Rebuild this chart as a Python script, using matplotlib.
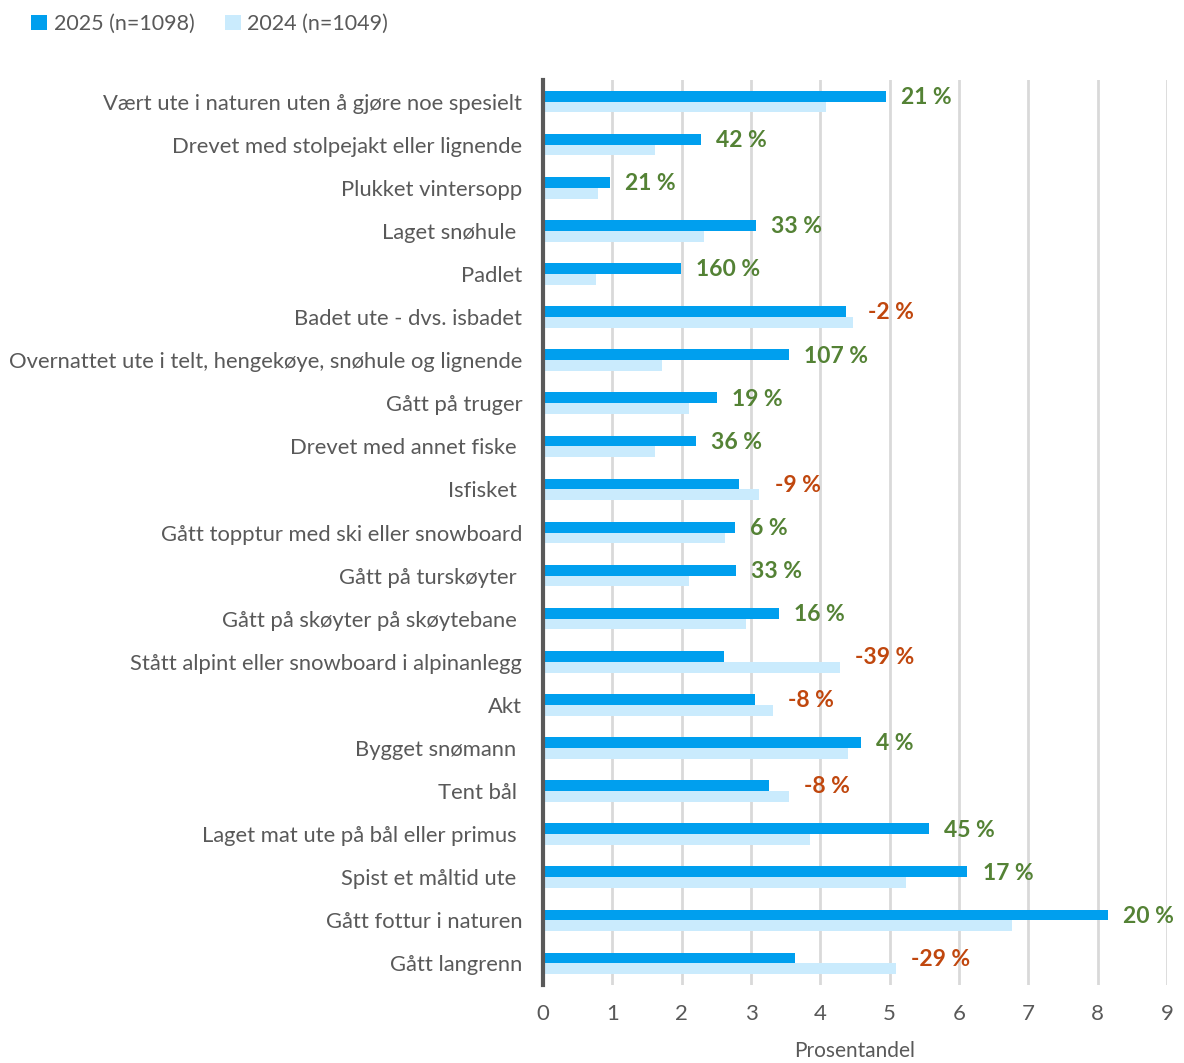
import numpy as np
import matplotlib.pyplot as plt

plt.rcParams['font.family'] = ['Lato', 'DejaVu Sans']

# Data
activities = ["Vært ute i naturen uten å gjøre noe spesielt",
              "Drevet med stolpejakt eller lignende",
              "Plukket vintersopp",
              "Laget snøhule ",
              "Padlet",
              "Badet ute - dvs. isbadet",
              "Overnattet ute i telt, hengekøye, snøhule og lignende",
              "Gått på truger",
              "Drevet med annet fiske ",
              "Isfisket ",
              "Gått topptur med ski eller snowboard",
              "Gått på turskøyter ",
              "Gått på skøyter på skøytebane ",
              "Stått alpint eller snowboard i alpinanlegg",
              "Akt",
              "Bygget snømann ",
              "Tent bål ",
              "Laget mat ute på bål eller primus ",
              "Spist et måltid ute ",
              "Gått fottur i naturen",
              "Gått langrenn"]
share_2025 = [4.95, 2.28, 0.97, 3.07, 1.99, 4.37, 3.55, 2.51, 2.21, 2.83, 2.77,
              2.78, 3.40, 2.61, 3.06, 4.59, 3.26, 5.57, 6.12, 8.15, 3.63]
share_2024 = [4.08, 1.61, 0.80, 2.32, 0.76, 4.47, 1.72, 2.11, 1.62, 3.12, 2.62,
              2.10, 2.93, 4.28, 3.32, 4.40, 3.55, 3.85, 5.24, 6.76, 5.09]
change = [21, 42, 21, 33, 160, -2, 107, 19, 36, -9, 6, 33, 16, -39, -8, 4, -8, 45, 17, 20, -29]

c25 = "#009FEE"
c24 = "#CAEBFD"
grey = "#595959"

fig = plt.figure(figsize=(11.84, 10.63), dpi=100)
ax = fig.add_axes([0.4586, 0.0734, 0.527, 0.8513])

y = np.arange(len(activities))
h = 0.25
ax.barh(y - h/2, share_2025, height=h, color=c25, label="2025 (n=1098)", zorder=3)
ax.barh(y + h/2, share_2024, height=h, color=c24, label="2024 (n=1049)", zorder=3)

for i in range(len(activities)):
    col = "#548235" if change[i] >= 0 else "#C0470E"
    xpos = max(share_2025[i], share_2024[i]) + 0.22
    ax.text(xpos, y[i] - h/2 + 0.03, f"{change[i]} %", color=col, fontsize=16.5,
            fontweight='bold', va='center', ha='left')

ax.set_ylim(len(activities) - 0.5, -0.5)
ax.set_xlim(0, 9)
ax.set_xticks(range(10))
ax.set_yticks(y)
ax.set_yticklabels(activities)
ax.tick_params(axis='y', length=0, pad=15, labelsize=15.8, labelcolor=grey)
ax.tick_params(axis='x', length=0, pad=14, labelsize=16, labelcolor=grey)
ax.grid(axis='x', color="#D9D9D9", linewidth=2, zorder=0)
for s in ['top', 'right', 'bottom']:
    ax.spines[s].set_visible(False)
ax.spines['left'].set_color(grey)
ax.spines['left'].set_linewidth(3)
ax.spines['left'].set_zorder(4)
ax.set_xlabel("Prosentandel", fontsize=15, color=grey, labelpad=12)

fig.legend(loc='upper left', bbox_to_anchor=(0.01, 1.005), ncol=2, frameon=False,
           fontsize=15.5, handlelength=0.75, handleheight=0.75, handletextpad=0.3,
           columnspacing=1.4, labelcolor=grey)

fig.savefig("out.png", dpi=100)
